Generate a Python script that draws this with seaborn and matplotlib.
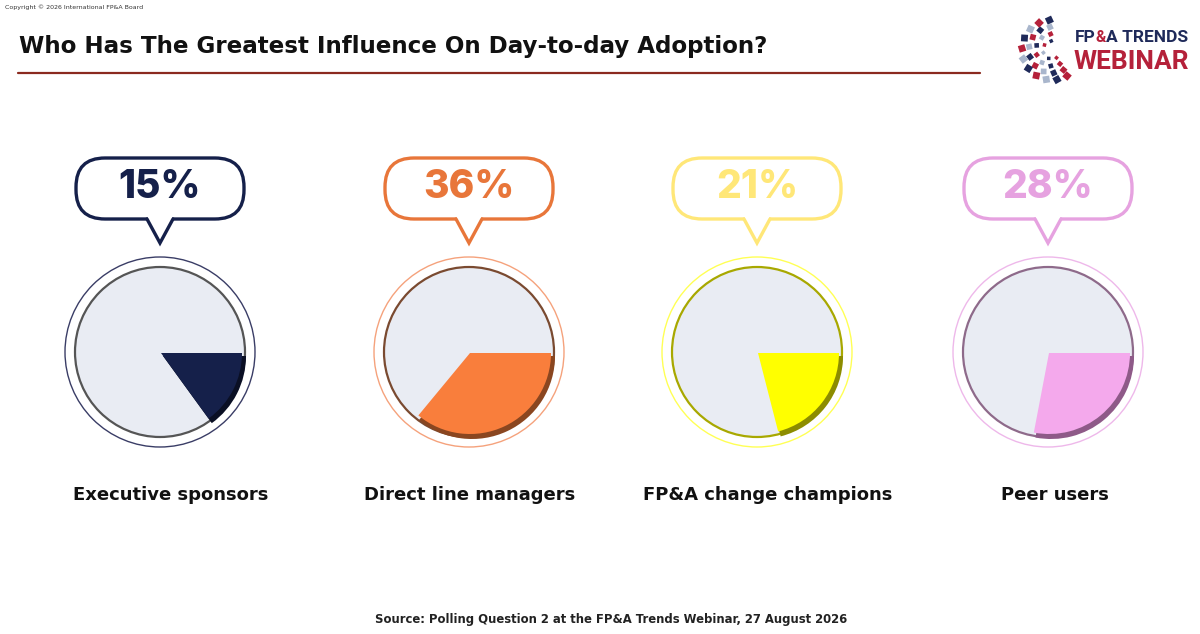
import numpy as np
import seaborn as sns
import matplotlib.pyplot as plt
from matplotlib.patches import Circle, FancyBboxPatch, Polygon, Rectangle

# data
groups = ['Executive sponsors', 'Direct line managers', 'FP&A change champions', 'Peer users']
shares = [15, 36, 21, 28]
wedge_colors = ['#15204a', '#f97e3c', '#ffff00', '#f4a9ec']
shadow_colors = ['#0a0f24', '#8a4620', '#8c8c00', '#8e5a88']
bubble_colors = ['#15204a', '#e8763a', '#ffe778', '#e6a2e0']
ring_colors = ['#3a3d66', '#f5a27c', '#ffff55', '#eeb8ea']
rim_colors = ['#555555', '#7a4a30', '#a8a800', '#8e6a8a']
title = 'Who Has The Greatest Influence On Day-to-day Adoption?'
source = 'Source: Polling Question 2 at the FP&A Trends Webinar, 27 August 2026'

W, H = 1200, 634
centers_x = [160, 469, 757, 1048]
label_x = [171, 470, 768, 1055]


def Y(py):
    return H - py


sns.set_theme(style="white")
plt.rcParams['font.family'] = ['DejaVu Sans']

fig = plt.figure(figsize=(12, 6.34), dpi=100)
ax = fig.add_axes([0, 0, 1, 1])

for i, (name, v) in enumerate(zip(groups, shares)):
    cx, cy = centers_x[i], Y(352)
    # outer ring + grey plate
    ax.add_patch(Circle((cx, cy), 95, facecolor='white', edgecolor=ring_colors[i], lw=1.0))
    ax.add_patch(Circle((cx, cy), 85, facecolor='#e9ecf3', edgecolor=rim_colors[i], lw=1.6))
    # bevel shadow then wedge
    ax.pie([v, 100 - v], colors=[shadow_colors[i], 'none'], startangle=0, counterclock=False,
           center=(cx + 3, cy - 4), radius=83, wedgeprops=dict(lw=0))
    ax.pie([v, 100 - v], colors=[wedge_colors[i], 'none'], startangle=0, counterclock=False,
           center=(cx + 1, cy - 1), radius=81, wedgeprops=dict(lw=0))
    # speech bubble
    bx = cx
    ax.add_patch(FancyBboxPatch((bx - 84, Y(219)), 168, 61,
                                boxstyle='round,pad=0,rounding_size=29',
                                facecolor='white', edgecolor=bubble_colors[i], lw=2.4))
    tri = [(bx - 13, Y(219)), (bx, Y(243)), (bx + 13, Y(219))]
    ax.add_patch(Polygon(tri, closed=False, facecolor='white', edgecolor='none', zorder=3))
    ax.add_patch(Rectangle((bx - 12, Y(221)), 24, 4, facecolor='white', edgecolor='none', zorder=3))
    ax.plot([p[0] for p in tri], [p[1] for p in tri], color=bubble_colors[i], lw=2.4,
            solid_joinstyle='miter', zorder=4)
    ax.text(bx, Y(188), f'{v}%', ha='center', va='center', fontsize=28,
            fontweight='heavy', family=['Inter', 'DejaVu Sans'], color=bubble_colors[i])
    ax.text(label_x[i], Y(495), name, ha='center', va='center', fontsize=13,
            fontweight='bold', color='#111111')

# header
ax.text(5, Y(7), 'Copyright © 2026 International FP&A Board', fontsize=4.5,
        color='#333333', va='center')
ax.text(19, Y(47), title, fontsize=16.6, fontweight='bold', color='#111111', va='center')
ax.plot([18, 980], [Y(73), Y(73)], color='#8b2a1f', lw=1.6)
ax.text(611, Y(620), source, fontsize=8.4, fontweight='bold', color='#222222',
        ha='center', va='center')

# logo
lx, ly = 1052, Y(50)
pal = ['#1f2a5a', '#b5213a', '#a9b6cc']
for k, r in enumerate([9, 16, 23, 30]):
    n = 5 + 2 * k
    for j, a in enumerate(np.linspace(95, 300, n)):
        t = np.deg2rad(a)
        s = 3.5 + 1.1 * k
        ax.add_patch(Rectangle((lx + r * np.cos(t) - s / 2, ly + r * np.sin(t) - s / 2), s, s,
                               angle=a + 20, rotation_point='center',
                               facecolor=pal[(j + k) % 3], edgecolor='none'))
ax.text(1075, Y(38), 'FP', fontsize=12.5, fontweight='bold', color='#1f2a5a', va='center',
        family=['Roboto', 'DejaVu Sans'])
ax.text(1095, Y(38), '&', fontsize=11.5, fontweight='bold', color='#b5213a', va='center',
        family=['Roboto', 'DejaVu Sans'])
ax.text(1106, Y(38), 'A TRENDS', fontsize=12.5, fontweight='bold', color='#1f2a5a', va='center',
        family=['Roboto', 'DejaVu Sans'])
ax.text(1074, Y(62), 'WEBINAR', fontsize=19, fontweight='bold', color='#b5213a', va='center',
        family=['Roboto', 'DejaVu Sans'])

ax.set_xlim(0, W)
ax.set_ylim(0, H)
ax.set_aspect('equal')
ax.axis('off')
fig.savefig('out.png', dpi=100, facecolor='white')
